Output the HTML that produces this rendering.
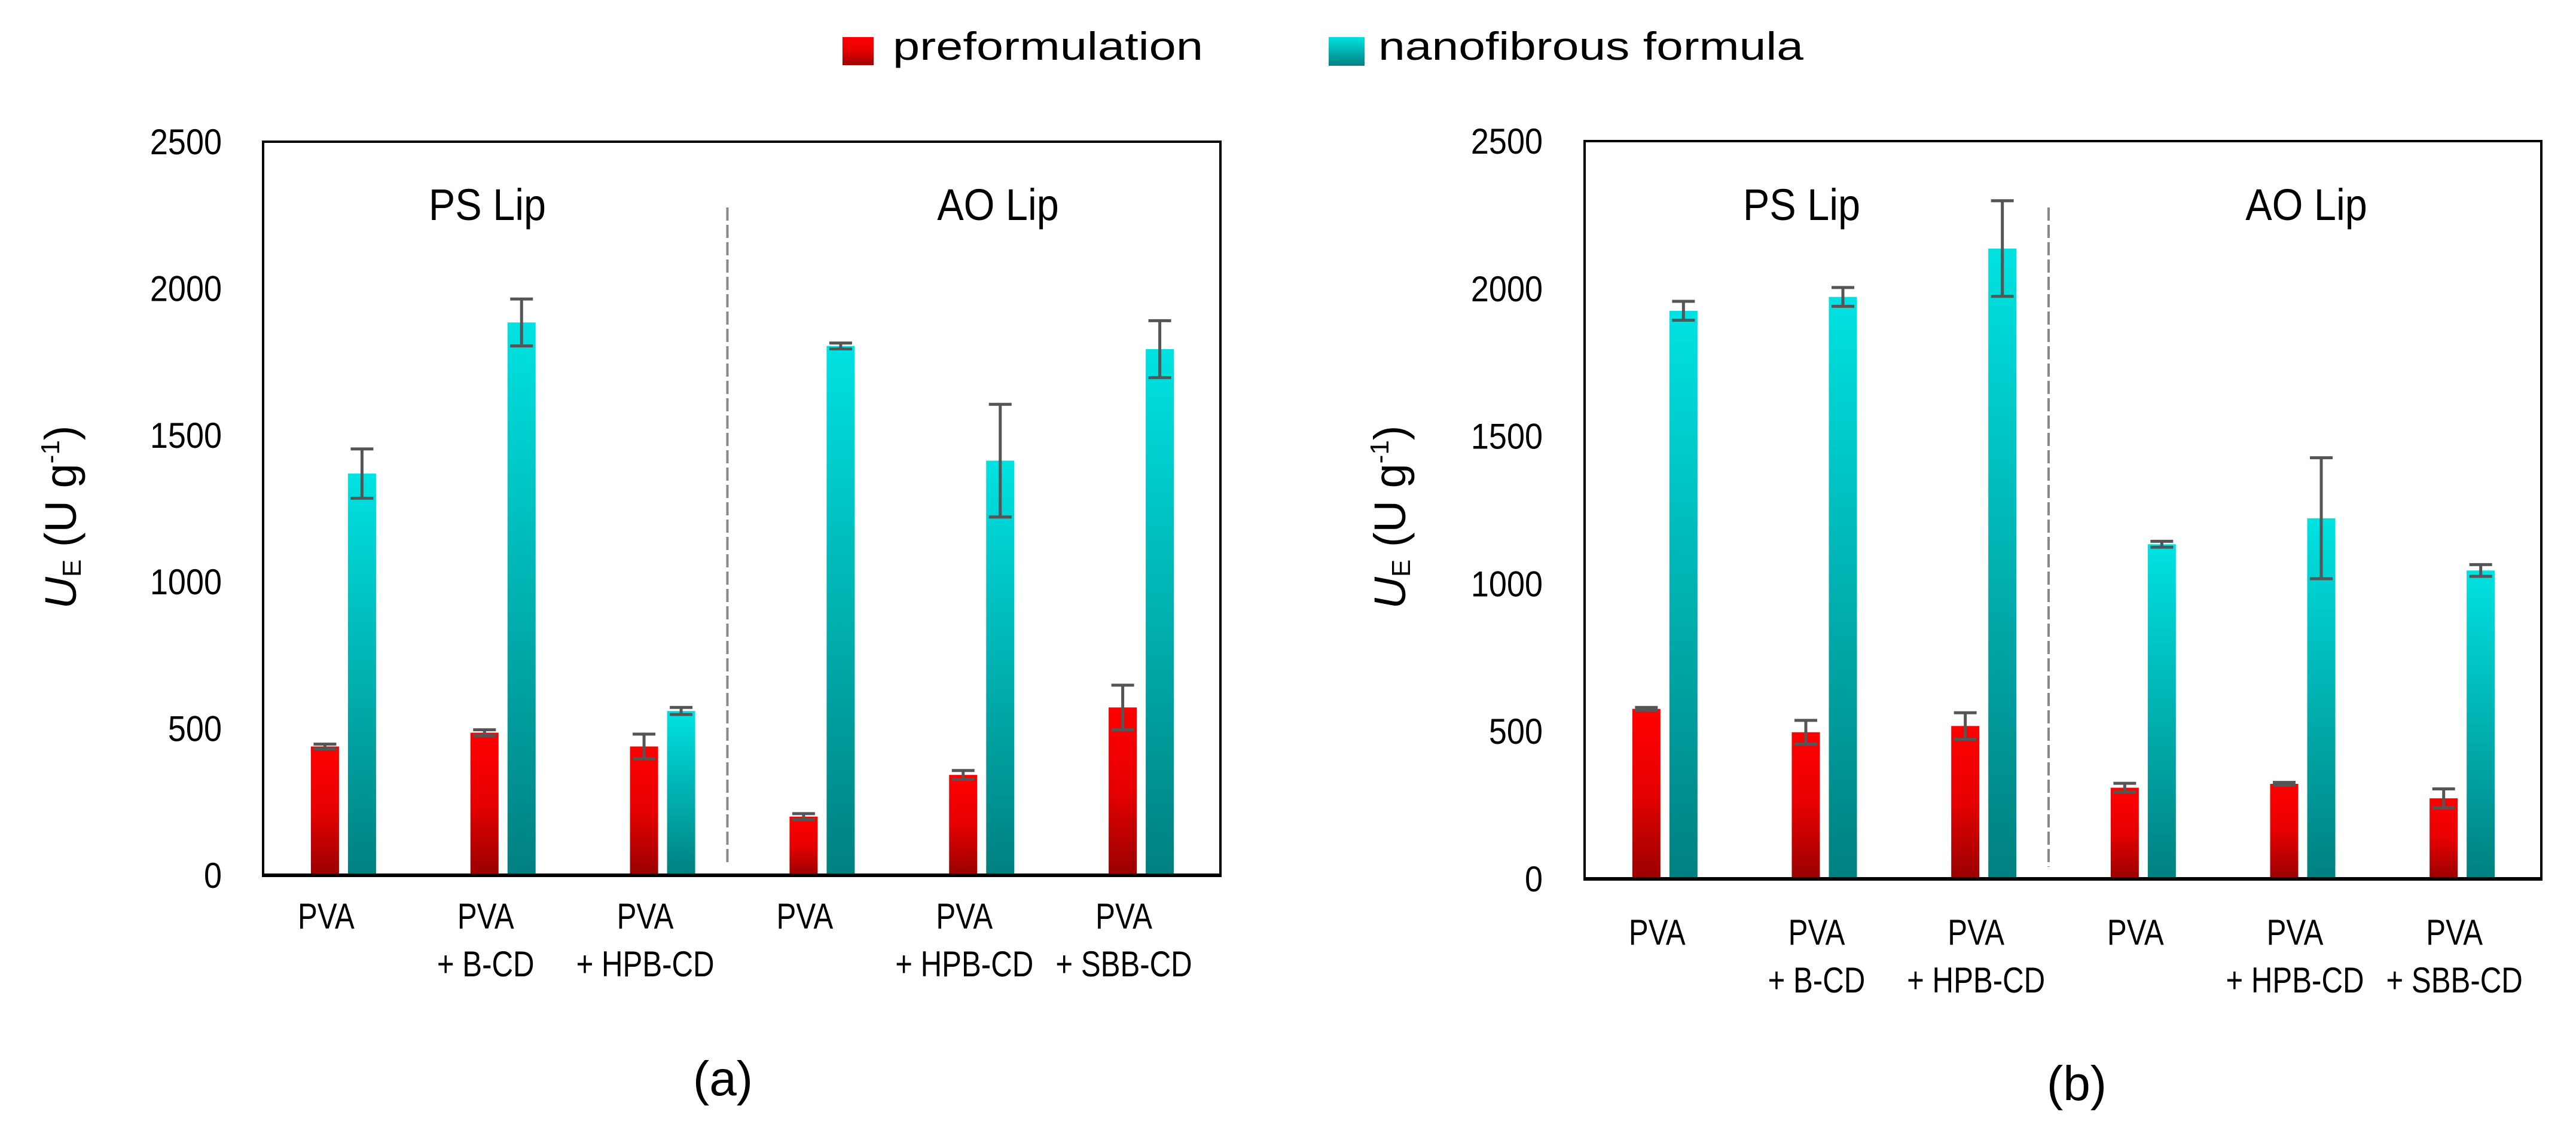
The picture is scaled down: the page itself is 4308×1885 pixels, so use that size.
<!DOCTYPE html>
<html><head><meta charset="utf-8">
<style>
html,body{margin:0;padding:0;background:#fff;}
svg{display:block;}
text{font-family:"Liberation Sans",sans-serif;fill:#000;}
</style></head>
<body>
<svg id="chart" width="4308" height="1885" viewBox="0 0 4308 1885" xmlns="http://www.w3.org/2000/svg">
<defs>
<linearGradient id="gRed" x1="0" y1="0" x2="0" y2="1">
<stop offset="0" stop-color="#ff0000"/><stop offset="0.5" stop-color="#e60000"/><stop offset="1" stop-color="#990000"/>
</linearGradient>
<linearGradient id="gCyan" x1="0" y1="0" x2="0" y2="1">
<stop offset="0" stop-color="#00e2e2"/><stop offset="1" stop-color="#008080"/>
</linearGradient>
</defs>
<g>
<rect x="1409" y="62" width="52" height="47" fill="url(#gRed)"/>
<text x="1493" y="100" font-size="66" textLength="519" lengthAdjust="spacingAndGlyphs">preformulation</text>
<rect x="2222" y="62" width="60" height="48" fill="url(#gCyan)"/>
<text x="2305" y="100" font-size="66" textLength="711" lengthAdjust="spacingAndGlyphs">nanofibrous formula</text>
</g>
<g id="panels"></g>
</svg>
<script>
const categories = [["PVA"],["PVA","+ B-CD"],["PVA","+ HPB-CD"],["PVA"],["PVA","+ HPB-CD"],["PVA","+ SBB-CD"]];
const yTicks = [0,500,1000,1500,2000,2500];
const aPre = [439,486,439,200,342,572];
const aPreErr = [8,10,42,10,15,76];
const aNano = [1369,1884,560,1804,1413,1793];
const aNanoErr = [84,80,12,10,192,97];
const bPre = [576,497,518,309,322,273];
const bPreErr = [5,40,45,15,5,32];
const bNano = [1925,1972,2136,1134,1222,1045];
const bNanoErr = [32,32,162,10,205,20];
const groupTitles = ["PS Lip","AO Lip"];

const NS = "http://www.w3.org/2000/svg";
const root = document.getElementById('panels');
function mk(tag, attrs, parent){
  const e = document.createElementNS(NS, tag);
  for (const k in attrs) e.setAttribute(k, attrs[k]);
  parent.appendChild(e);
  return e;
}
function condense(t, f){
  const w = t.getComputedTextLength();
  t.setAttribute('textLength', (w * f).toFixed(1));
  t.setAttribute('lengthAdjust', 'spacingAndGlyphs');
}
const panels = [
  {id:'a', left:440, right:2041, top:237, zero:1464, tickX:371, titleX:127, pre:aPre, preErr:aPreErr, nano:aNano, nanoErr:aNanoErr, lab1:1553, lab2:1633, labOff:-28, ttlY:368, ttlX:[815,1669], letter:'(a)', letterX:1209, letterY:1832},
  {id:'b', left:2650, right:4250, top:236, zero:1470, tickX:2580, titleX:2350, pre:bPre, preErr:bPreErr, nano:bNano, nanoErr:bNanoErr, lab1:1580, lab2:1660, labOff:-12, ttlY:368, ttlX:[3013,3857], letter:'(b)', letterX:3473, letterY:1840}
];
panels.forEach(p => {
  const g = mk('g', {}, root);
  
  
  const ymax = 2500;
  const y = v => p.zero - v / ymax * (p.zero - p.top);
  const gw = (p.right - p.left) / categories.length;
  const xc = i => p.left + (i + 0.5) * gw;
  yTicks.forEach(t => {
    const tx = mk('text', {x:p.tickX, y:y(t)+21, 'font-size':60, 'text-anchor':'end'}, g);
    
    
    tx.textContent = t;
    condense(tx, 0.9);
  });
  const yt = mk('text', {x:0, y:0, 'font-size':74, 'text-anchor':'middle', transform:`translate(${p.titleX},865) rotate(-90)`}, g);
  
  
  yt.innerHTML = '<tspan font-style="italic">U</tspan><tspan font-size="44" dy="8">E</tspan><tspan dy="-8"> (U g</tspan><tspan font-size="44" dy="-28">-1</tspan><tspan dy="28">)</tspan>';
  const sx = p.left + 3 * gw - 24;
  const dl = mk('line', {x1:sx, x2:sx, y1:347, y2:p.zero-20, stroke:'#888', 'stroke-width':4, 'stroke-dasharray':'22 7'}, g);
  
  
  groupTitles.forEach((t, k) => {
    const tt = mk('text', {x:p.ttlX[k], y:p.ttlY, 'font-size':74, 'text-anchor':'middle'}, g);
    
    
    tt.textContent = t;
    condense(tt, 0.9);
  });
  const bw = 47;
  categories.forEach((c, i) => {
    const series = [[p.pre[i], p.preErr[i], 'url(#gRed)', -30, 'preformulation'], [p.nano[i], p.nanoErr[i], 'url(#gCyan)', 32, 'nanofibrous']];
    series.forEach(s => {
      const cx = xc(i) + s[3];
      const r = mk('rect', {x:cx-bw/2, y:y(s[0]), width:bw, height:p.zero-y(s[0]), fill:s[2]}, g);
      
      
      const eg = mk('g', {stroke:'#555', 'stroke-width':5}, g);
      
      
      mk('line', {x1:cx, x2:cx, y1:y(s[0]+s[1]), y2:y(s[0]-s[1])}, eg);
      mk('line', {x1:cx-19, x2:cx+19, y1:y(s[0]+s[1]), y2:y(s[0]+s[1])}, eg);
      mk('line', {x1:cx-19, x2:cx+19, y1:y(s[0]-s[1]), y2:y(s[0]-s[1])}, eg);
    });
    c.forEach((line, j) => {
      const lt = mk('text', {x:xc(i)+p.labOff, y:j ? p.lab2 : p.lab1, 'font-size':60, 'text-anchor':'middle'}, g);
      
      
      lt.textContent = line;
      condense(lt, 0.82);
    });
  });
  const fr = mk('path', {d:`M${p.left},${p.zero} V${p.top} H${p.right} V${p.zero}`, fill:'none', stroke:'#000', 'stroke-width':4}, g);
  
  
  const ax = mk('line', {x1:p.left-2, x2:p.right+2, y1:p.zero, y2:p.zero, stroke:'#000', 'stroke-width':6}, g);
  
  
  const lt = mk('text', {x:p.letterX, y:p.letterY, 'font-size':82, 'text-anchor':'middle'}, g);
  
  
  lt.textContent = p.letter;
});
</script>
</body></html>
